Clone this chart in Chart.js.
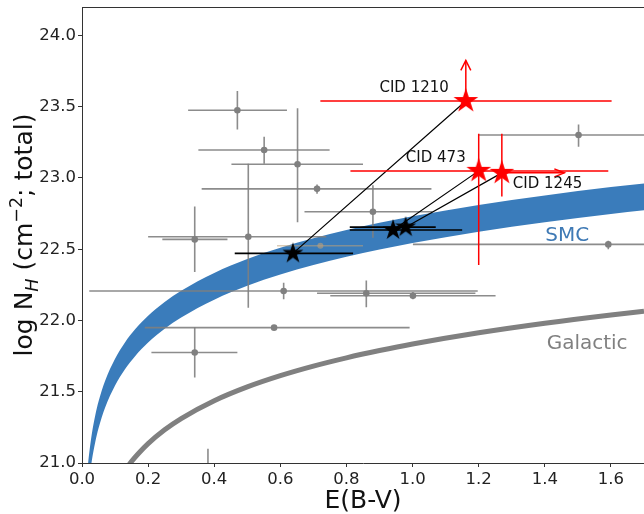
<!DOCTYPE html>
<html><head><meta charset="utf-8">
<script src="https://cdn.jsdelivr.net/npm/chart.js@4/dist/chart.umd.min.js"></script>
<style>html,body{margin:0;padding:0;background:#fff;}canvas{display:block;}</style>
</head><body>
<canvas id="c" width="644" height="514"></canvas>
<script>
// ---------- data ----------
const xTickValues = [0.0, 0.2, 0.4, 0.6, 0.8, 1.0, 1.2, 1.4, 1.6];
const yTickValues = [21.0, 21.5, 22.0, 22.5, 23.0, 23.5, 24.0];

// SMC band (upper / lower edges)
const smcX     = [0.015,0.02,0.03,0.04,0.05,0.07,0.1,0.13,0.16,0.2,0.25,0.3,0.4,0.5,0.6,0.7,0.8,0.9,1.0,1.2,1.4,1.6,1.7];
const smcUpper = [20.908,21.033,21.209,21.334,21.431,21.577,21.732,21.846,21.936,22.033,22.130,22.209,22.334,22.431,22.510,22.577,22.635,22.686,22.732,22.811,22.878,22.936,22.962];
const smcLower = [20.720,20.845,21.021,21.146,21.243,21.389,21.544,21.658,21.748,21.845,21.942,22.021,22.146,22.243,22.322,22.389,22.447,22.498,22.544,22.623,22.690,22.748,22.774];

// Galactic relation
const galX = [0.14,0.15,0.17,0.2,0.25,0.3,0.4,0.5,0.6,0.7,0.8,0.9,1.0,1.2,1.4,1.6,1.7];
const galY = [20.981,21.011,21.065,21.136,21.233,21.312,21.437,21.534,21.613,21.680,21.738,21.789,21.835,21.914,21.981,22.039,22.065];

// gray comparison sample
const grayX   = [0.470,0.551,0.652,0.711,0.880,0.341,0.503,0.610,0.860,1.001,0.581,0.341,1.502,1.592,0.381];
const grayY   = [23.475,23.197,23.097,22.924,22.763,22.569,22.588,22.207,22.191,22.174,21.950,21.775,23.302,22.534,20.900];
const grayXLo = [0.321,0.352,0.452,0.362,0.673,0.243,0.200,0.022,0.711,0.751,0.190,0.210,1.200,1.001,0.370];
const grayXHi = [0.620,0.749,0.850,1.057,1.060,0.440,0.739,1.197,1.190,1.251,0.991,0.470,1.800,2.200,0.392];
const grayYLo = [23.34,23.10,22.69,22.89,22.58,22.34,22.09,22.149,22.093,22.15,21.94,21.60,23.22,22.50,20.70];
const grayYHi = [23.61,23.29,23.49,22.955,22.95,22.80,23.10,22.265,22.28,22.20,21.96,21.953,23.376,22.56,21.10];

// faint point partly hidden by the band
const faintX = [0.721], faintY = [22.525], faintXLo = [0.59], faintXHi = [0.85];

// black stars (SMC-corrected positions)
const blackX   = [0.638, 0.941, 0.979];
const blackY   = [22.471, 22.635, 22.655];
const blackXLo = [0.462, 0.810, 0.810];
const blackXHi = [0.820, 1.150, 1.070];

// red stars (CID sources)
const redNames = ['CID 1210', 'CID 473', 'CID 1245'];
const redX   = [1.161, 1.200, 1.270];
const redY   = [23.54, 23.05, 23.036];
const redXLo = [0.721, 0.812, 1.270];
const redXHi = [1.602, 1.592, 1.459];
const redYLo = [23.54, 22.39, 22.87];
const redYHi = [23.825, 23.31, 23.31];
const redUpArrow    = [true, false, false];
const redRightArrow = [false, false, true];

// ---------- helpers ----------
function hSegs(y, lo, hi){ const d=[]; for(let i=0;i<y.length;i++){ d.push({x:lo[i],y:y[i]},{x:hi[i],y:y[i]},{x:hi[i],y:null}); } return d; }
function vSegs(x, lo, hi){ const d=[]; for(let i=0;i<x.length;i++){ d.push({x:x[i],y:lo[i]},{x:x[i],y:hi[i]},{x:x[i],y:null}); } return d; }
function pts(xs, ys){ return xs.map((x,i)=>({x:x,y:ys[i]})); }
function starCanvas(R, color){
  const s = Math.ceil(2*R+2), c = document.createElement('canvas'); c.width=s; c.height=s;
  const g = c.getContext('2d'); g.fillStyle=color; g.beginPath();
  for(let k=0;k<10;k++){ const r = (k%2)? R*0.382 : R; const a = -Math.PI/2 + k*Math.PI/5;
    const px = s/2 + r*Math.cos(a), py = s/2 + r*Math.sin(a); if(k) g.lineTo(px,py); else g.moveTo(px,py); }
  g.closePath(); g.fill(); return c;
}
const FONT = '"DejaVu Sans", sans-serif';
const GRAY = 'rgba(128,128,128,0.9)';

const links = [];
for(let i=0;i<blackX.length;i++){ links.push({x:blackX[i],y:blackY[i]},{x:redX[i],y:redY[i]},{x:redX[i],y:null}); }

const datasets = [
  {data: pts(smcX, smcUpper), fill:'+1', backgroundColor:'rgb(58,124,187)', borderWidth:0, pointRadius:0, showLine:true, cubicInterpolationMode:'monotone', order:20},
  {data: pts(smcX, smcLower), fill:false, borderWidth:0, borderColor:'rgba(0,0,0,0)', pointRadius:0, showLine:true, cubicInterpolationMode:'monotone', order:20},
  {data: pts(galX, galY), borderColor:'#808080', borderWidth:5, pointRadius:0, showLine:true, cubicInterpolationMode:'monotone', order:19},
  {data: hSegs(grayY, grayXLo, grayXHi), borderColor:GRAY, borderWidth:1.6, pointRadius:0, showLine:true, order:10},
  {data: vSegs(grayX, grayYLo, grayYHi), borderColor:GRAY, borderWidth:1.6, pointRadius:0, showLine:true, order:10},
  {data: pts(grayX, grayY), pointRadius:3.3, pointBackgroundColor:'#808080', pointBorderWidth:0, showLine:false, order:9},
  {data: hSegs(faintY, faintXLo, faintXHi), borderColor:'rgba(190,160,120,0.55)', borderWidth:1.5, pointRadius:0, showLine:true, order:9},
  {data: pts(faintX, faintY), pointRadius:3, pointBackgroundColor:'rgba(190,160,120,0.6)', pointBorderWidth:0, showLine:false, order:9},
  {data: hSegs(blackY, blackXLo, blackXHi), borderColor:'#000', borderWidth:1.6, pointRadius:0, showLine:true, order:6},
  {data: links, borderColor:'#000', borderWidth:1.2, pointRadius:0, showLine:true, order:5},
  {data: pts(blackX, blackY), pointStyle: starCanvas(11,'#000'), pointRadius:11, showLine:false, order:4},
  {data: hSegs(redY, redXLo, redXHi), borderColor:'#ff0000', borderWidth:1.5, pointRadius:0, showLine:true, order:3},
  {data: vSegs(redX, redYLo, redYHi), borderColor:'#ff0000', borderWidth:1.5, pointRadius:0, showLine:true, order:3},
  {data: pts(redX, redY), pointStyle: starCanvas(13,'#ff0000'), pointRadius:13, showLine:false, order:1}
];

const decor = {
  id:'decor',
  afterDatasetsDraw(chart){
    const ctx = chart.ctx, sx = chart.scales.x, sy = chart.scales.y;
    ctx.save();
    ctx.strokeStyle = '#ff0000'; ctx.lineWidth = 1.5;
    for(let i=0;i<redX.length;i++){
      if(redUpArrow[i]){ const px=sx.getPixelForValue(redX[i]), py=sy.getPixelForValue(redYHi[i]);
        ctx.beginPath(); ctx.moveTo(px-5,py+10); ctx.lineTo(px,py); ctx.lineTo(px+5,py+10); ctx.stroke(); }
      if(redRightArrow[i]){ const px=sx.getPixelForValue(redXHi[i]), py=sy.getPixelForValue(redY[i]);
        ctx.beginPath(); ctx.moveTo(px-10,py-4); ctx.lineTo(px,py); ctx.lineTo(px-10,py+4); ctx.stroke(); }
    }
    ctx.fillStyle = '#111'; ctx.font = '15px ' + FONT; ctx.textBaseline = 'middle';
    const off = [[-17,-13,'right'],[-13,-12.5,'right'],[11,11.5,'left']];
    for(let i=0;i<redX.length;i++){
      ctx.textAlign = off[i][2];
      ctx.fillText(redNames[i], sx.getPixelForValue(redX[i])+off[i][0], sy.getPixelForValue(redY[i])+off[i][1]);
    }
    ctx.font = '20px ' + FONT; ctx.textAlign='center';
    ctx.fillStyle = 'rgb(63,122,181)'; ctx.fillText('SMC', sx.getPixelForValue(1.468), sy.getPixelForValue(22.595));
    ctx.fillStyle = '#808080'; ctx.fillText('Galactic', sx.getPixelForValue(1.528), sy.getPixelForValue(21.84));
    ctx.restore();
  },
  afterDraw(chart){
    const ctx = chart.ctx, a = chart.chartArea;
    ctx.save();
    ctx.strokeStyle = '#333'; ctx.lineWidth = 1;
    ctx.beginPath(); ctx.moveTo(a.left, a.top+0.5); ctx.lineTo(a.right, a.top+0.5); ctx.stroke();
    ctx.fillStyle = '#111';
    ctx.font = '25px ' + FONT; ctx.textAlign='center'; ctx.textBaseline='middle';
    ctx.fillText('E(B-V)', (a.left+a.right)/2, 501);
    const F = 25;
    const parts = [
      {t:'log N', f: F+'px '+FONT, dy:0},
      {t:'H', f: 'italic '+(F*0.7)+'px '+FONT, dy: F*0.22},
      {t:' (cm', f: F+'px '+FONT, dy:0},
      {t:'\u22122', f: (F*0.7)+'px '+FONT, dy: -F*0.42},
      {t:'; total)', f: F+'px '+FONT, dy:0}
    ];
    let total = 0;
    parts.forEach(p=>{ ctx.font=p.f; p.w = ctx.measureText(p.t).width; total += p.w; });
    ctx.translate(32, (a.top+a.bottom)/2); ctx.rotate(-Math.PI/2);
    ctx.textAlign='left'; ctx.textBaseline='alphabetic';
    let xx = -total/2;
    parts.forEach(p=>{ ctx.font=p.f; ctx.fillText(p.t, xx, p.dy); xx += p.w; });
    ctx.restore();
  }
};

new Chart(document.getElementById('c'), {
  type:'scatter',
  data:{datasets},
  options:{
    responsive:false, animation:false, devicePixelRatio:1,
    layout:{autoPadding:false, padding:{top:7,right:0,left:0,bottom:0}},
    plugins:{legend:{display:false}, tooltip:{enabled:false}},
    scales:{
      x:{type:'linear', min:0, max:1.7,
        afterFit: s=>{ s.height = 51; s.paddingLeft = 0; s.paddingRight = 0; },
        afterBuildTicks: s=>{ s.ticks = xTickValues.map(v=>({value:v})); },
        grid:{drawOnChartArea:false, drawTicks:true, tickLength:4, color:'#333'},
        border:{color:'#333', width:1},
        ticks:{font:{family:FONT, size:16.5}, color:'#222', padding:3, maxRotation:0, callback:v=>Number(v).toFixed(1)}
      },
      y:{type:'linear', min:21.0, max:24.2,
        afterFit: s=>{ s.width = 82; s.paddingTop = 0; s.paddingBottom = 0; },
        afterBuildTicks: s=>{ s.ticks = yTickValues.map(v=>({value:v})); },
        grid:{drawOnChartArea:false, drawTicks:true, tickLength:4, color:'#333'},
        border:{color:'#333', width:1},
        ticks:{font:{family:FONT, size:16.5}, color:'#222', padding:2, callback:v=>Number(v).toFixed(1)}
      }
    }
  },
  plugins:[decor]
});
</script>
</body></html>
